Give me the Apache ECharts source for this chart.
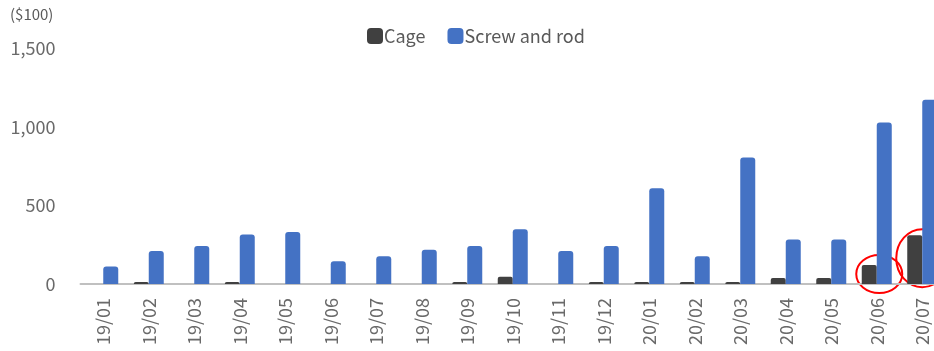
<!DOCTYPE html>
<html>
<head>
<meta charset="utf-8">
<script src="https://cdn.jsdelivr.net/npm/echarts@6/dist/echarts.min.js"></script>
<style>html,body{margin:0;padding:0;background:#fff;}#c{width:934px;height:351px;}</style>
</head>
<body>
<div id="c"></div>
<script>
const categories = ['19/01','19/02','19/03','19/04','19/05','19/06','19/07','19/08','19/09','19/10','19/11','19/12','20/01','20/02','20/03','20/04','20/05','20/06','20/07'];
const cage = [0,12,0,12,0,0,0,0,12,46,0,12,12,12,12,38,38,120,310];
const screwAndRod = [112,209,242,315,331,144,177,217,242,348,209,242,608,177,804,283,283,1027,1171];
const yTicks = [0,500,1000,1500];
const unitLabel = '($100)';
const highlighted = ['20/06','20/07'];

const FONT = "'Noto Sans CJK KR','Noto Sans',sans-serif";
const chart = echarts.init(document.getElementById('c'), null, {renderer:'canvas'});
chart.setOption({
  animation:false,
  textStyle:{fontFamily:FONT},
  grid:{left:80.5,width:864.5,top:48,bottom:67,containLabel:false,outerBoundsMode:'none'},
  legend:{
    top:22,left:362,itemWidth:16,itemHeight:16,itemGap:22,
    icon:'roundRect',
    textStyle:{fontSize:18,color:'#595959',fontFamily:FONT,padding:[0,0,0,-4]},
    data:['Cage','Screw and rod']
  },
  xAxis:{
    type:'category',data:categories,
    axisLine:{lineStyle:{color:'#c0c0c0',width:2}},
    axisTick:{show:false},
    axisLabel:{rotate:90,fontSize:18,color:'#6a6a6a',margin:14,fontFamily:FONT,interval:0}
  },
  yAxis:{
    type:'value',min:yTicks[0],max:yTicks[yTicks.length-1],interval:500,
    axisLine:{show:false},axisTick:{show:false},splitLine:{show:false},
    axisLabel:{fontSize:18,color:'#6a6a6a',margin:25,fontFamily:FONT,
      formatter:v=>v.toLocaleString('en-US')}
  },
  series:[
    {name:'Cage',type:'bar',data:cage,barWidth:15,barGap:'0%',
     itemStyle:{color:'#404040',borderRadius:[2,2,0,0]}},
    {name:'Screw and rod',type:'bar',data:screwAndRod,barWidth:15,
     itemStyle:{color:'#4472C4',borderRadius:[3,3,0,0]}}
  ]
});
// red hand-drawn annotation circles around the highlighted Cage bars
const g = [{id:'unit',type:'text',left:10,top:7,style:{text:unitLabel,fontSize:15,fill:'#595959',fontFamily:FONT}}];
highlighted.forEach((cat,k)=>{
  const idx = categories.indexOf(cat);
  const top = chart.convertToPixel({seriesIndex:0},[idx,cage[idx]]);
  const base = chart.convertToPixel({seriesIndex:0},[idx,0]);
  const h = base[1]-top[1];
  const cx = top[0] + (k===0 ? 2.5 : 0);
  const cy = k===0 ? base[1]-10 : top[1]+h*0.47;
  const rx = k===0 ? 23 : 26, ry = k===0 ? 19 : 29;
  g.push({id:'circ'+k,type:'ellipse',shape:{cx:cx,cy:cy,rx:rx,ry:ry},
    style:{fill:null,stroke:'#ff0000',lineWidth:2}});
});
chart.setOption({graphic:g});
</script>
</body>
</html>
